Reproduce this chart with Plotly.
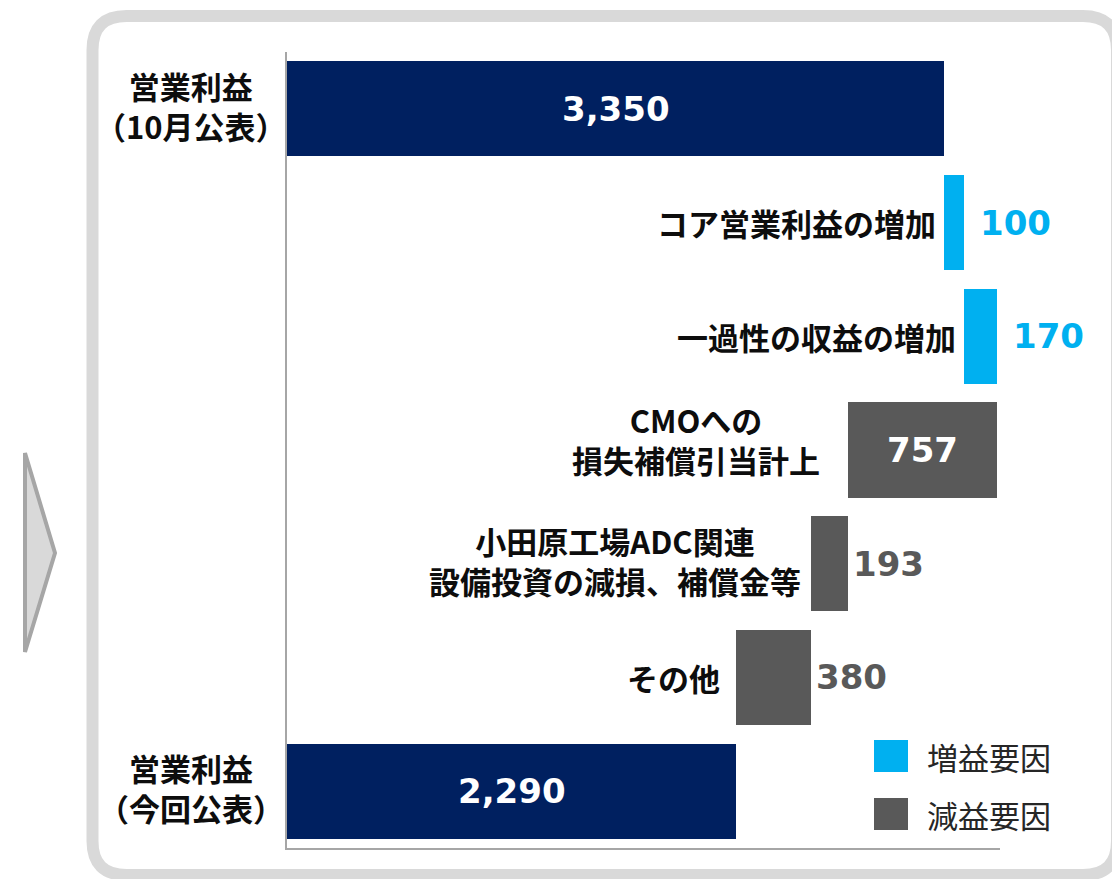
import plotly.graph_objects as go

# ---------------- data ----------------
categories = [
    "営業利益<br>（10月公表）",
    "コア営業利益の増加",
    "一過性の収益の増加",
    "CMOへの<br>損失補償引当計上",
    "小田原工場ADC関連<br>設備投資の減損、補償金等",
    "その他",
    "営業利益<br>（今回公表）",
]
kinds = ["total", "delta", "delta", "delta", "delta", "delta", "total"]
values = [3350, 100, 170, -757, -193, -380, 2290]
value_labels = ["3,350", "100", "170", "757", "193", "380", "2,290"]
legend_labels = ["増益要因", "減益要因"]

# ---------------- styles ----------------
NAVY = "#002060"
CYAN = "#00B0F0"
GRAY = "#595959"
BORDER = "#D9D9D9"
AXIS = "#A6A6A6"
JP = "Noto Sans CJK JP"
NUM = "DejaVu Sans"

W, H = 1112, 879
L, R, T, B = 287, 1000, 52, 848  # plot-area pixel box
X_MAX = (R - L) / (657 / 3350)


def px(x):
    return (x - L) / (R - L)


def py(y):
    return (B - y) / (B - T)


# waterfall geometry from data
bases, lengths, colors = [], [], []
running = 0
for k, v in zip(kinds, values):
    if k == "total":
        bases.append(0)
        lengths.append(v)
        colors.append(NAVY)
        running = v
    else:
        if v >= 0:
            bases.append(running)
            lengths.append(v)
            colors.append(CYAN)
        else:
            bases.append(running + v)
            lengths.append(-v)
            colors.append(GRAY)
        running += v

rows = list(range(len(categories)))

fig = go.Figure()
fig.add_trace(go.Bar(
    y=rows, x=lengths, base=bases, orientation="h",
    width=0.836, marker=dict(color=colors, line=dict(width=0)),
    showlegend=False, hoverinfo="skip",
))

annotations = []
# category labels
label_gap = [0, 6, 6, 26, 8, 14, 0]
label_yshift = [3, 0, 0, 11, 3, 0, 4]
for i, (cat, k) in enumerate(zip(categories, kinds)):
    if k == "total":
        annotations.append(dict(
            xref="paper", yref="y", x=px(191), y=i, text="<b>" + cat + "</b>",
            showarrow=False, xanchor="center", yanchor="middle", align="center",
            yshift=label_yshift[i],
            font=dict(family=JP, size=31, color="#0D0D0D"),
        ))
    else:
        annotations.append(dict(
            xref="x", yref="y", x=bases[i], y=i, text="<b>" + cat + "</b>",
            showarrow=False, xanchor="right", yanchor="middle", align="center",
            xshift=-label_gap[i], yshift=label_yshift[i],
            font=dict(family=JP, size=31, color="#0D0D0D"),
        ))

# value labels
for i, (lab, ln, bs, col) in enumerate(zip(value_labels, lengths, bases, colors)):
    if ln >= 500:
        annotations.append(dict(
            xref="x", yref="y", x=bs + ln / 2, y=i, text="<b>" + lab + "</b>",
            showarrow=False, xanchor="center", yanchor="middle",
            font=dict(family=NUM, size=34, color="white"),
        ))
    else:
        gap = 14 if col == CYAN else 3
        annotations.append(dict(
            xref="x", yref="y", x=bs + ln, y=i, text="<b>" + lab + "</b>",
            showarrow=False, xanchor="left", yanchor="middle", xshift=gap,
            font=dict(family=NUM, size=34, color=col),
        ))

shapes = []
# rounded outer frame
x0, y0, x1, y1, r = 92.5, 16, 1117, 875, 34
pts = (
    f"M{px(x0 + r)},{py(y0)} L{px(x1 - r)},{py(y0)} "
    f"Q{px(x1)},{py(y0)} {px(x1)},{py(y0 + r)} L{px(x1)},{py(y1 - r)} "
    f"Q{px(x1)},{py(y1)} {px(x1 - r)},{py(y1)} L{px(x0 + r)},{py(y1)} "
    f"Q{px(x0)},{py(y1)} {px(x0)},{py(y1 - r)} L{px(x0)},{py(y0 + r)} "
    f"Q{px(x0)},{py(y0)} {px(x0 + r)},{py(y0)} Z"
)
shapes.append(dict(type="path", xref="paper", yref="paper", path=pts,
                   line=dict(color=BORDER, width=12), fillcolor="rgba(0,0,0,0)",
                   layer="below"))
# left arrow triangle
tri = f"M{px(25)},{py(453)} L{px(55)},{py(553)} L{px(25)},{py(652)} Z"
shapes.append(dict(type="path", xref="paper", yref="paper", path=tri,
                   line=dict(color=AXIS, width=4), fillcolor=BORDER, layer="above"))

# legend
for j, (lab, col) in enumerate(zip(legend_labels, [CYAN, GRAY])):
    top = 740 + j * 58
    shapes.append(dict(type="rect", xref="paper", yref="paper",
                       x0=px(874), x1=px(908), y0=py(top + 32), y1=py(top),
                       fillcolor=col, line=dict(width=0)))
    annotations.append(dict(
        xref="paper", yref="paper", x=px(925), y=py(top + 16), text=lab,
        showarrow=False, xanchor="left", yanchor="middle",
        font=dict(family=JP, size=31, color="#262626"),
    ))

fig.update_layout(
    width=W, height=H,
    margin=dict(l=L, r=W - R, t=T, b=H - B, pad=0),
    paper_bgcolor="white", plot_bgcolor="rgba(0,0,0,0)",
    xaxis=dict(range=[0, X_MAX], showgrid=False, zeroline=False,
               showticklabels=False, ticks="", showline=True,
               linecolor=AXIS, linewidth=2, fixedrange=True),
    yaxis=dict(range=[6.5, -0.5], showgrid=False, zeroline=False,
               showticklabels=False, ticks="", showline=True,
               linecolor=AXIS, linewidth=2, fixedrange=True),
    annotations=annotations, shapes=shapes,
    bargap=0, showlegend=False,
)

fig.write_html("out.html", config={"displayModeBar": False},
               post_script="document.body.style.margin='0';")
